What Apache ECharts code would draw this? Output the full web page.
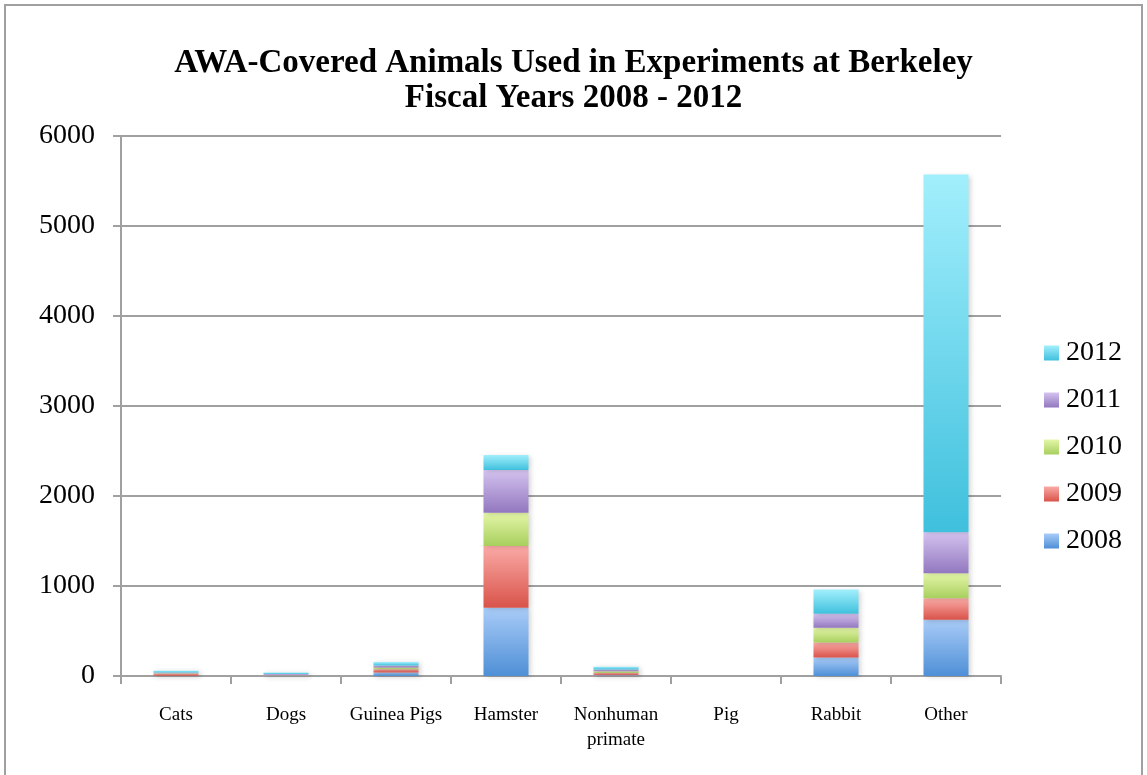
<!DOCTYPE html>
<html>
<head>
<meta charset="utf-8">
<script src="https://cdn.jsdelivr.net/npm/echarts@6/dist/echarts.min.js"></script>
<style>
html,body{margin:0;padding:0;background:#fff;}
#chart{width:1147px;height:775px;}
</style>
</head>
<body>
<div id="chart"></div>
<script>
const categories = ['Cats', 'Dogs', 'Guinea Pigs', 'Hamster', 'Nonhuman\nprimate', 'Pig', 'Rabbit', 'Other'];
const years = ['2008', '2009', '2010', '2011', '2012'];
const v2008 = [3, 2, 40, 759, 8, 0, 205, 626];
const v2009 = [22, 3, 35, 686, 25, 0, 167, 237];
const v2010 = [5, 2, 20, 370, 20, 0, 163, 278];
const v2011 = [10, 15, 22, 474, 20, 0, 156, 456];
const v2012 = [18, 18, 38, 167, 30, 0, 270, 3974];
const yTicks = [0, 1000, 2000, 3000, 4000, 5000, 6000];

const seriesValues = [v2008, v2009, v2010, v2011, v2012];
const gradients = [
  ['#a9ccf8', '#4e8fd6'],
  ['#faaaa6', '#d9534a'],
  ['#e4f6a8', '#a8cf5e'],
  ['#d4c3ef', '#9277bf'],
  ['#a2effc', '#3fc0dd']
];

const chart = echarts.init(document.getElementById('chart'));
const font = 'Liberation Serif';

const series = years.map((y, i) => ({
  name: y,
  type: 'bar',
  stack: 'total',
  barWidth: 45,
  data: seriesValues[i],
  itemStyle: {
    color: new echarts.graphic.LinearGradient(0, 0, 0, 1, [
      { offset: 0, color: gradients[i][0] },
      { offset: 1, color: gradients[i][1] }
    ]),
    shadowBlur: 5,
    shadowColor: 'rgba(0,0,0,0.18)',
    shadowOffsetX: 2,
    shadowOffsetY: 1
  },
  emphasis: { disabled: true }
}));

chart.setOption({
  animation: false,
  backgroundColor: '#fff',
  title: {
    text: 'AWA-Covered Animals Used in Experiments at Berkeley\nFiscal Years 2008 - 2012',
    left: 'center',
    top: 41,
    textStyle: {
      fontFamily: font,
      fontWeight: 'bold',
      fontSize: 33,
      lineHeight: 35,
      color: '#000'
    }
  },
  legend: {
    data: years.slice().reverse(),
    orient: 'vertical',
    left: 1039,
    top: 334,
    itemWidth: 15,
    itemHeight: 15,
    itemGap: 19,
    icon: 'rect',
    textStyle: { fontFamily: font, fontSize: 28, lineHeight: 25, color: '#000', padding: [0, 0, 0, 2] }
  },
  grid: { left: 121, right: 146, top: 136, bottom: 99, containLabel: false },
  xAxis: {
    type: 'category',
    data: categories,
    axisLine: { lineStyle: { color: '#a0a0a0', width: 2 } },
    axisTick: { show: true, length: 8, lineStyle: { color: '#a0a0a0', width: 2 } },
    axisLabel: { fontFamily: font, fontSize: 19, color: '#000', margin: 27, lineHeight: 25, interval: 0 }
  },
  yAxis: {
    type: 'value',
    min: 0,
    max: 6000,
    interval: 1000,
    axisLine: { show: true, lineStyle: { color: '#a0a0a0', width: 2 } },
    axisTick: { show: true, length: 8, lineStyle: { color: '#a0a0a0', width: 2 } },
    splitLine: { lineStyle: { color: '#a0a0a0', width: 2 } },
    axisLabel: {
      fontFamily: font, fontSize: 28, color: '#000', margin: 26,
      formatter: v => yTicks.includes(v) ? String(v) : ''
    }
  },
  graphic: [{
    type: 'rect',
    shape: { x: 5, y: 5, width: 1137, height: 820 },
    style: { fill: 'none', stroke: '#a0a0a0', lineWidth: 2 },
    z: -1
  }],
  series: series
});
</script>
</body>
</html>
